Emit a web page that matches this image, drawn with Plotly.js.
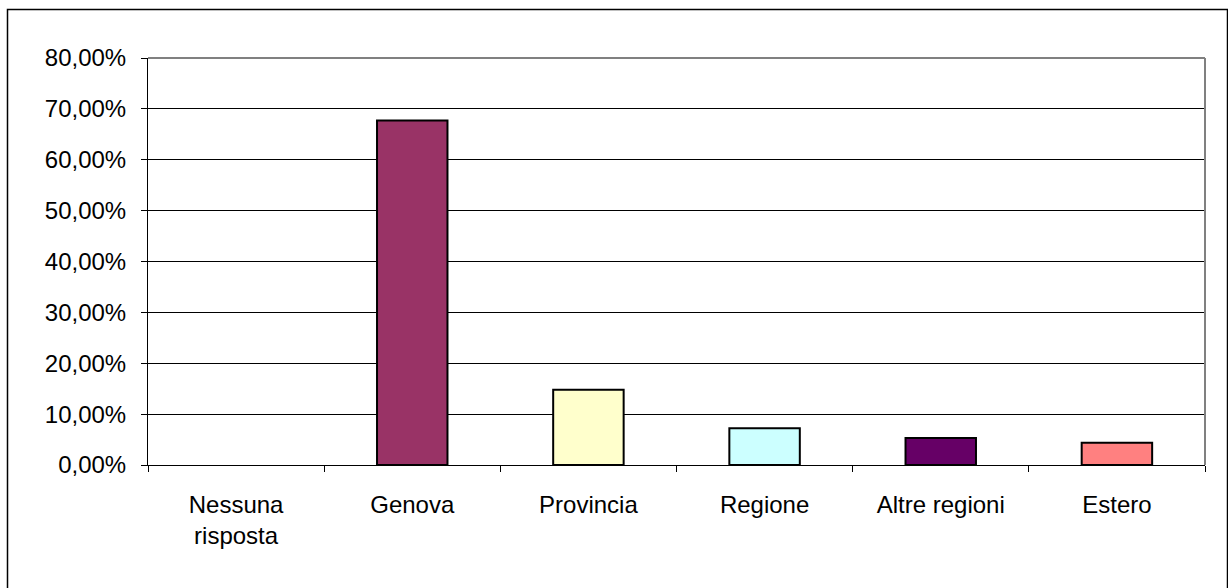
<!DOCTYPE html>
<html>
<head>
<meta charset="utf-8">
<script src="https://cdn.plot.ly/plotly-3.0.1.min.js"></script>
<style>
html,body{margin:0;padding:0;background:#fff;}
#chart{width:1228px;height:588px;}
</style>
</head>
<body>
<div id="chart"></div>
<script>
const categories = ["Nessuna<br>risposta", "Genova", "Provincia", "Regione", "Altre regioni", "Estero"];
const values = [0, 0.677, 0.148, 0.072, 0.053, 0.0435];
const barColors = ["#ffffff", "#993366", "#FFFFCC", "#CCFFFF", "#660066", "#FF8080"];
const yTickVals = [0, 0.1, 0.2, 0.3, 0.4, 0.5, 0.6, 0.7, 0.8];

const W = 1228, H = 588;
const L = 148, R = 1205, T = 58, B = 465;
const pw = R - L, ph = B - T;
function px(x){ return (x - L) / pw; }
function py(y){ return (B - y) / ph; }

const FONT = "Liberation Sans, Arial, sans-serif";
const FS = 24;

const trace = {
  type: "bar",
  x: categories,
  y: values,
  marker: {
    color: barColors,
    line: { color: "#000000", width: values.map(v => v > 0 ? 2 : 0) }
  },
  hoverinfo: "none"
};

const layout = {
  width: W, height: H,
  margin: { l: L, r: W - R, t: T, b: H - B, pad: 0 },
  paper_bgcolor: "#ffffff",
  plot_bgcolor: "#ffffff",
  separators: ",.",
  showlegend: false,
  bargap: 0.6,
  font: { family: FONT, size: FS, color: "#000000" },
  xaxis: {
    type: "category",
    showgrid: false,
    zeroline: false,
    showline: true,
    linecolor: "#000000",
    linewidth: 1,
    ticks: "outside",
    tickson: "boundaries",
    ticklen: 6,
    tickcolor: "#000000",
    tickwidth: 1,
    ticklabelstandoff: 18,
    tickfont: { family: FONT, size: FS, color: "#000000" },
    fixedrange: true
  },
  yaxis: {
    range: [0, 0.8],
    tickvals: yTickVals,
    tickformat: ".2%",
    showgrid: true,
    gridcolor: "#000000",
    gridwidth: 1,
    zeroline: false,
    showline: true,
    linecolor: "#000000",
    linewidth: 1,
    ticks: "outside",
    ticklen: 6,
    tickcolor: "#000000",
    tickwidth: 1,
    ticklabelstandoff: 10,
    tickfont: { family: FONT, size: FS, color: "#000000" },
    fixedrange: true
  },
  shapes: [
    { type: "line", xref: "paper", yref: "paper", x0: 0, x1: 1, y0: 1, y1: 1,
      line: { color: "#808080", width: 2 } },
    { type: "line", xref: "paper", yref: "paper", x0: 1, x1: 1, y0: 0, y1: 1,
      line: { color: "#808080", width: 2 } },
    { type: "rect", xref: "paper", yref: "paper",
      x0: px(7.5), x1: px(1227.5), y0: py(600), y1: py(9.5),
      line: { color: "#000000", width: 1.5 }, fillcolor: "rgba(0,0,0,0)", layer: "below" }
  ]
};

Plotly.newPlot("chart", [trace], layout, { staticPlot: true, displayModeBar: false });
</script>
</body>
</html>
